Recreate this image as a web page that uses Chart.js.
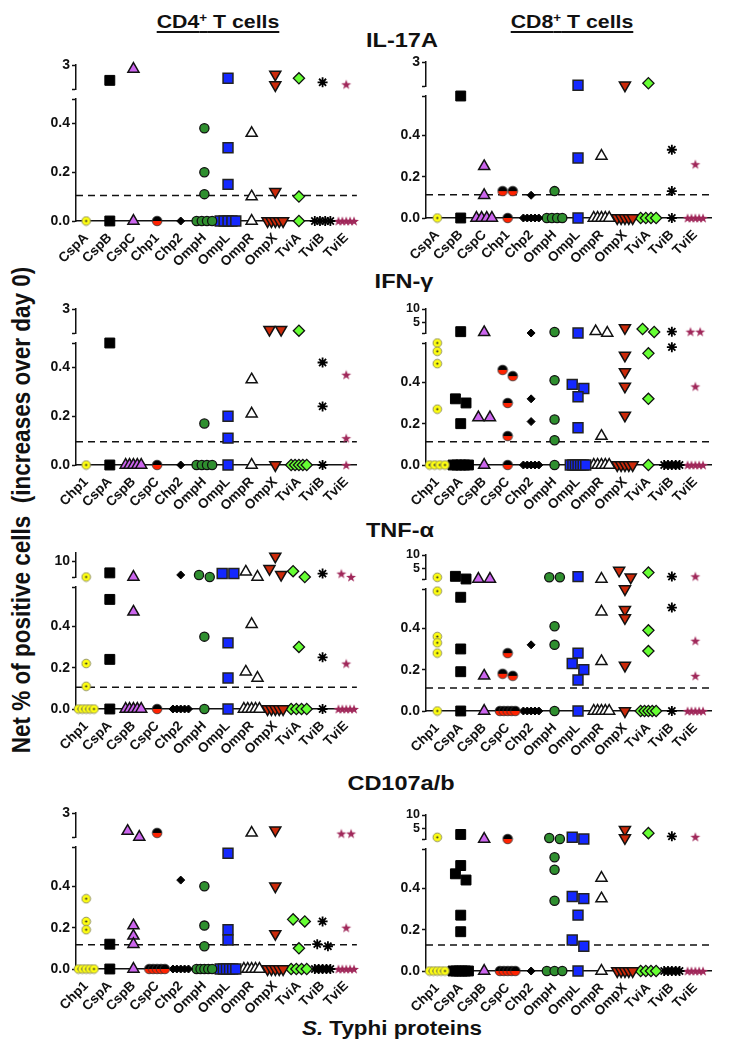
<!DOCTYPE html>
<html>
<head>
<meta charset="utf-8">
<script src="https://cdn.jsdelivr.net/npm/chart.js@4.4.1/dist/chart.umd.min.js"></script>
<style>
  body { margin: 0; background: #fff; }
  #page { position: relative; width: 730px; height: 1050px; overflow: hidden; }
  canvas { position: absolute; }
  .t { position: absolute; font-family: 'Liberation Sans', Arial, sans-serif; font-weight: bold;
       color: #111; white-space: pre; line-height: 1; }
  .h { font-size: 19px; transform: translateX(-50%) scaleX(1.12); text-decoration: underline;
       text-decoration-thickness: 2px; text-underline-offset: 3px; }
  .c { font-size: 21px; transform: translateX(-50%) scaleX(1.12); }
</style>
</head>
<body>
<div id="page">
  <div class="t h" style="left:218px;top:12px">CD4<span style="font-size:12px;vertical-align:6px">+</span> T cells</div>
  <div class="t h" style="left:572px;top:12px">CD8<span style="font-size:12px;vertical-align:6px">+</span> T cells</div>
  <div class="t c" style="left:402px;top:29px">IL-17A</div>
  <div class="t c" style="left:404px;top:270px">IFN-γ</div>
  <div class="t c" style="left:400px;top:519px">TNF-α</div>
  <div class="t c" style="left:401px;top:772px">CD107a/b</div>
  <div class="t" style="left:392px;top:1018px;font-size:20px;transform:translateX(-50%) scaleX(1.12)"><i>S.</i> Typhi proteins</div>
  <div class="t" style="left:22px;top:510px;font-size:22.5px;transform:translate(-50%,-50%) rotate(-90deg) scaleY(1.12)">Net % of positive cells  (increases over day 0)</div>
</div>
<script>
// category labels
const labelsIL17 = ['CspA','CspB','CspC','Chp1','Chp2','OmpH','OmpL','OmpR','OmpX','TviA','TviB','TviE'];
const labelsOther = ['Chp1','CspA','CspB','CspC','Chp2','OmpH','OmpL','OmpR','OmpX','TviA','TviB','TviE'];

// values per antigen column (net % positive cells)
const cd4IL17A = [
  [0], [1.72, 0], [2.67, 0], [0], [0],
  [0.38, 0.20, 0.11, 0, 0, 0, 0],
  [1.89, 0.30, 0.15, 0, 0, 0, 0, 0],
  [0.36, 0.10, 0],
  [2.22, 1.33, 0.12, 0, 0, 0, 0, 0],
  [1.89, 0.10, 0],
  [1.56, 0, 0, 0, 0],
  [1.39, 0, 0, 0, 0, 0]
];
const cd8IL17A = [
  [0], [0.59, 0], [0.25, 0.11, 0, 0, 0, 0], [0.13, 0.13, 0],
  [0.11, 0, 0, 0, 0, 0],
  [0.13, 0, 0, 0, 0],
  [1.06, 0.29, 0],
  [0.30, 0, 0, 0, 0, 0],
  [1.06, 0, 0, 0, 0, 0],
  [1.23, 0, 0, 0, 0],
  [0.33, 0.13, 0],
  [0.26, 0, 0, 0, 0, 0]
];
const cd4IFNg = [
  [0], [0.50, 0], [0, 0, 0, 0, 0], [0], [0],
  [0.17, 0, 0, 0, 0],
  [0.20, 0.11, 0],
  [0.35, 0.21, 0],
  [1.28, 1.28, 0],
  [1.19, 0, 0, 0, 0, 0],
  [0.42, 0.24, 0],
  [0.37, 0.11, 0]
];
const cd8IFNg = [
  [0.59, 0.55, 0.49, 0.27, 0, 0, 0, 0],
  [1.5, 0.32, 0.30, 0.20, 0, 0, 0, 0, 0],
  [1.25, 0.23, 0.23, 0],
  [0.46, 0.43, 0.30, 0.14, 0],
  [1.0, 0.32, 0.21, 0, 0, 0, 0, 0],
  [1.38, 0.41, 0.22, 0.12, 0],
  [1.0, 0.39, 0.37, 0.33, 0.18, 0, 0, 0, 0, 0, 0, 0],
  [1.0, 1.6, 0.14, 0, 0, 0, 0, 0],
  [2.9, 0.53, 0.45, 0.38, 0.24, 0, 0, 0, 0, 0],
  [2.5, 1.38, 0.54, 0.32, 0],
  [1.5, 0.57, 0, 0, 0, 0, 0],
  [1.5, 1.5, 0.38, 0, 0, 0, 0, 0]
];
const cd4TNFa = [
  [1.0, 0.22, 0.11, 0, 0, 0, 0, 0],
  [3.4, 0.53, 0.24, 0],
  [1.0, 0.47, 0, 0, 0, 0, 0],
  [0],
  [2.2, 0, 0, 0, 0, 0],
  [2.2, 1.0, 0.35, 0],
  [3.0, 3.0, 0.32, 0.15, 0],
  [4.0, 1.0, 0.41, 0.18, 0.15, 0, 0, 0, 0, 0],
  [13, 5.8, 2.4, 0, 0, 0, 0, 0],
  [4.4, 1.0, 0.30, 0, 0, 0, 0],
  [3.0, 0.25, 0],
  [3.0, 1.0, 0.22, 0, 0, 0, 0, 0]
];
const cd8TNFa = [
  [1.64, 0.58, 0.36, 0.33, 0.28, 0],
  [1.0, 2.0, 0.55, 0.30, 0.19, 0],
  [1.0, 1.0, 0.17, 0],
  [0.28, 0.18, 0.17, 0, 0, 0, 0, 0],
  [0.32, 0, 0, 0, 0, 0],
  [1.64, 1.64, 0.41, 0.32, 0],
  [1.9, 0.28, 0.23, 0.20, 0.15, 0],
  [1.0, 0.48, 0.24, 0, 0, 0, 0, 0],
  [4.2, 1.64, 0.59, 0.49, 0.45, 0.22, 0],
  [3.4, 0.39, 0.29, 0, 0, 0, 0, 0],
  [1.9, 0.50, 0],
  [2.0, 0.34, 0.17, 0, 0, 0, 0, 0]
];
const cd4CD107 = [
  [0.34, 0.23, 0.19, 0, 0, 0, 0, 0],
  [0.12, 0],
  [1.49, 1.0, 0.21, 0.16, 0.12, 0],
  [1.34, 0, 0, 0, 0, 0],
  [0.43, 0, 0, 0, 0, 0],
  [0.40, 0.21, 0.11, 0, 0, 0, 0, 0],
  [0.56, 0.19, 0.14, 0, 0, 0, 0, 0, 0],
  [1.34, 0, 0, 0, 0, 0],
  [1.57, 0.40, 0.17, 0, 0, 0, 0, 0],
  [0.24, 0.23, 0.10, 0, 0, 0, 0],
  [0.23, 0.12, 0.11, 0, 0, 0, 0, 0],
  [1.29, 1.29, 0.20, 0, 0, 0, 0, 0]
];
const cd8CD107 = [
  [1.64, 0, 0, 0, 0, 0],
  [2.7, 0.51, 0.47, 0.44, 0.27, 0.19, 0, 0, 0, 0, 0, 0],
  [1.0, 0],
  [1.0, 0, 0, 0, 0, 0],
  [0],
  [1.4, 1.0, 0.55, 0.49, 0.34, 0, 0, 0],
  [1.0, 1.64, 0.36, 0.35, 0.27, 0.15, 0.12, 0],
  [0.45, 0.35, 0],
  [4.5, 1.4, 0, 0, 0, 0, 0],
  [3.2, 0, 0, 0, 0],
  [2.0, 0, 0, 0, 0, 0],
  [1.8, 0, 0, 0, 0, 0]
];

// positivity cut-offs (dashed lines)
const cutoffCD4 = [0.105, 0.095, 0.105, 0.117];
const cutoffCD8 = [0.113, 0.113, 0.111, 0.126];

// upper (broken) axis tick labels
const upperTicks3 = [3];
const upperTicks10 = [5, 10];
const upperTicksTNF = [10];

Chart.defaults.font.family = "'Liberation Sans', Arial, sans-serif";
Chart.defaults.color = '#111';

function markerCanvas(size, draw) {
  const c = document.createElement('canvas');
  c.width = c.height = size;
  draw(c.getContext('2d'), size / 2);
  return c;
}
const yellowImg = markerCanvas(11, (g, m) => {
  g.beginPath(); g.arc(m, m, 4.3, 0, Math.PI * 2);
  g.fillStyle = '#ffff10'; g.fill();
  g.lineWidth = 1; g.strokeStyle = '#8f8f5c'; g.stroke();
  g.beginPath(); g.arc(m, m, 1.1, 0, Math.PI * 2); g.fillStyle = '#222'; g.fill();
});
const halfImg = markerCanvas(12, (g, m) => {
  g.beginPath(); g.arc(m, m, 4.8, Math.PI, Math.PI * 2); g.closePath();
  g.fillStyle = '#000'; g.fill();
  g.beginPath(); g.arc(m, m, 4.8, 0, Math.PI); g.closePath();
  g.fillStyle = '#ff2200'; g.fill();
  g.beginPath(); g.arc(m, m, 4.8, 0, Math.PI * 2);
  g.lineWidth = 0.8; g.strokeStyle = '#333'; g.stroke();
});
const starImg = markerCanvas(12, (g, m) => {
  g.beginPath();
  for (let i = 0; i < 10; i++) {
    const r = i % 2 ? 2.1 : 5.2;
    const a = -Math.PI / 2 + i * Math.PI / 5;
    g.lineTo(m + r * Math.cos(a), m + 0.5 + r * Math.sin(a));
  }
  g.closePath(); g.fillStyle = '#a0285a'; g.fill();
});

// marker per column position
const markerStyles = [
  {img: yellowImg, size: 9},
  {ps: 'rect', r: 7, bg: '#000', bc: '#000', bw: 1, size: 10},
  {ps: 'triangle', r: 6.4, bg: '#cc66ee', bc: '#111', bw: 1.5, size: 11},
  {img: halfImg, size: 9.5},
  {ps: 'rectRot', r: 4, bg: '#000', bc: '#000', bw: 1, size: 8},
  {ps: 'circle', r: 4.6, bg: '#2f8f2f', bc: '#111', bw: 1.3, size: 10},
  {ps: 'rect', r: 7, bg: '#1428ff', bc: '#222', bw: 1.5, size: 11},
  {ps: 'triangle', r: 6.4, bg: '#fff', bc: '#111', bw: 1.5, size: 11},
  {ps: 'triangle', r: 6.4, rot: 180, bg: '#cc2a0a', bc: '#111', bw: 1.5, size: 11},
  {ps: 'rectRot', r: 5.6, bg: '#66ff33', bc: '#111', bw: 1.3, size: 11},
  {ps: 'star', r: 5, bg: '#000', bc: '#000', bw: 1.8, size: 10},
  {img: starImg, size: 9}
];

const LEFT = {left: 36, w: 331, xMin: -0.43, xMax: 11.45};
const RIGHT = {left: 386, w: 334, xMin: -0.48, xMax: 11.69};
const PX_PER_CAT = 24.3;

const panels = [
  {side: LEFT,  top: 53,  labels: labelsIL17,  data: cd4IL17A, lowMax: 0.5,  upMax: 3,  upTicks: upperTicks3,   cut: cutoffCD4[0]},
  {side: RIGHT, top: 50,  labels: labelsIL17,  data: cd8IL17A, lowMax: 0.59, upMax: 3,  upTicks: upperTicks3,   cut: cutoffCD8[0]},
  {side: LEFT,  top: 297, labels: labelsOther, data: cd4IFNg,  lowMax: 0.5,  upMax: 3,  upTicks: upperTicks3,   cut: cutoffCD4[1]},
  {side: RIGHT, top: 297, labels: labelsOther, data: cd8IFNg,  lowMax: 0.59, upMax: 10, upTicks: upperTicks10,  cut: cutoffCD8[1]},
  {side: LEFT,  top: 541, labels: labelsOther, data: cd4TNFa,  lowMax: 0.59, upMax: 15, upTicks: upperTicksTNF, cut: cutoffCD4[2]},
  {side: RIGHT, top: 543, labels: labelsOther, data: cd8TNFa,  lowMax: 0.59, upMax: 10, upTicks: upperTicks10,  cut: cutoffCD8[2]},
  {side: LEFT,  top: 801, labels: labelsOther, data: cd4CD107, lowMax: 0.59, upMax: 3,  upTicks: upperTicks3,   cut: cutoffCD4[3]},
  {side: RIGHT, top: 803, labels: labelsOther, data: cd8CD107, lowMax: 0.59, upMax: 10, upTicks: upperTicks10,  cut: cutoffCD8[3]}
];
const UP_MIN = 1;

// spread overlapping points sideways, like a column scatter
function swarm(values, st, p) {
  const py = v => v <= p.lowMax ? v / p.lowMax * 122 : 132 + (v - UP_MIN) / (p.upMax - UP_MIN) * 24;
  const pts = values.map(v => ({v, py: py(v)})).sort((a, b) => b.py - a.py);
  const groups = [];
  pts.forEach(pt => {
    const g = groups[groups.length - 1];
    if (g && g[g.length - 1].py - pt.py < st.size * 0.68) g.push(pt); else groups.push([pt]);
  });
  const out = [];
  groups.forEach(g => {
    const n = g.length;
    const s = n > 1 ? Math.min(st.size + 1, 16 / (n - 1)) : 0;
    g.forEach((pt, i) => out.push({dx: (i - (n - 1) / 2) * s / PX_PER_CAT, v: pt.v}));
  });
  return out;
}

const tickFont = {size: 14, weight: 'bold'};
const axisGrid = {drawOnChartArea: false, drawTicks: true, tickLength: 4, color: '#111', tickColor: '#111', tickWidth: 1.5};
const axisBorder = {display: true, color: '#111', width: 1.5};

function drawPanel(p) {
  const cv = document.createElement('canvas');
  cv.width = p.side.w; cv.height = 223;
  cv.style.left = p.side.left + 'px'; cv.style.top = p.top + 'px';
  document.getElementById('page').appendChild(cv);

  const datasets = [{
    type: 'line', order: 1, yAxisID: 'y',
    data: [{x: p.side.xMin, y: p.cut}, {x: p.side.xMax, y: p.cut}],
    borderColor: '#111', borderWidth: 1.5, borderDash: [7, 5], pointRadius: 0, clip: false
  }];
  p.data.forEach((vals, c) => {
    const st = markerStyles[c];
    const pts = swarm(vals, st, p);
    const lower = pts.filter(q => q.v <= p.lowMax).map(q => ({x: c + q.dx, y: q.v}));
    const upper = pts.filter(q => q.v > p.lowMax).map(q => ({x: c + q.dx, y: q.v}));
    [[lower, 'y'], [upper, 'yTop']].forEach(([d, axis]) => {
      if (!d.length) return;
      datasets.push({
        type: 'scatter', order: 0, yAxisID: axis, data: d, clip: false,
        pointStyle: st.img || st.ps, pointRadius: st.r || 5, pointRotation: st.rot || 0,
        pointBackgroundColor: st.bg || '#000', pointBorderColor: st.bc || '#000',
        pointBorderWidth: st.bw || 0, backgroundColor: st.bg || '#000', borderColor: st.bc || '#000'
      });
    });
  });

  new Chart(cv.getContext('2d'), {
    type: 'scatter',
    data: {datasets},
    options: {
      responsive: false, animation: false, events: [],
      layout: {padding: {top: 12, left: 0, right: 0, bottom: 0}},
      plugins: {legend: {display: false}, tooltip: {enabled: false}},
      scales: {
        x: {
          type: 'linear', min: p.side.xMin, max: p.side.xMax,
          afterBuildTicks: s => { s.ticks = p.labels.map((l, i) => ({value: i})); },
          afterFit: s => { s.height = 55; },
          grid: {display: false, drawTicks: false},
          border: axisBorder,
          ticks: {autoSkip: false, minRotation: 45, maxRotation: 45, padding: 9,
                  font: {size: 13.5, weight: 'bold'}, callback: v => p.labels[v]}
        },
        y: {
          type: 'linear', position: 'left', stack: 'p', stackWeight: 122, weight: 1,
          min: 0, max: p.lowMax,
          afterBuildTicks: s => { s.ticks = [0, 0.2, 0.4, p.lowMax].map(v => ({value: v})); },
          afterFit: s => { s.width = 40; },
          grid: axisGrid, border: axisBorder,
          ticks: {autoSkip: false, padding: 2, font: tickFont,
                  callback: v => v === p.lowMax ? '' : v.toFixed(1)}
        },
        gap: {
          type: 'linear', position: 'left', stack: 'p', stackWeight: 10, weight: 2,
          min: 0, max: 1,
          afterFit: s => { s.width = 40; },
          grid: {display: false, drawTicks: false}, border: {display: false}, ticks: {display: false}
        },
        yTop: {
          type: 'linear', position: 'left', stack: 'p', stackWeight: 24, weight: 3,
          min: UP_MIN, max: p.upMax,
          afterBuildTicks: s => { s.ticks = [UP_MIN].concat(p.upTicks).map(v => ({value: v})); },
          afterFit: s => { s.width = 40; },
          grid: axisGrid, border: axisBorder,
          ticks: {autoSkip: false, padding: 2,
                  font: {size: p.upTicks.length > 1 ? 12.5 : 14, weight: 'bold'},
                  callback: v => v === UP_MIN ? '' : String(v)}
        }
      }
    }
  });
}

panels.forEach(drawPanel);
</script>
</body>
</html>
